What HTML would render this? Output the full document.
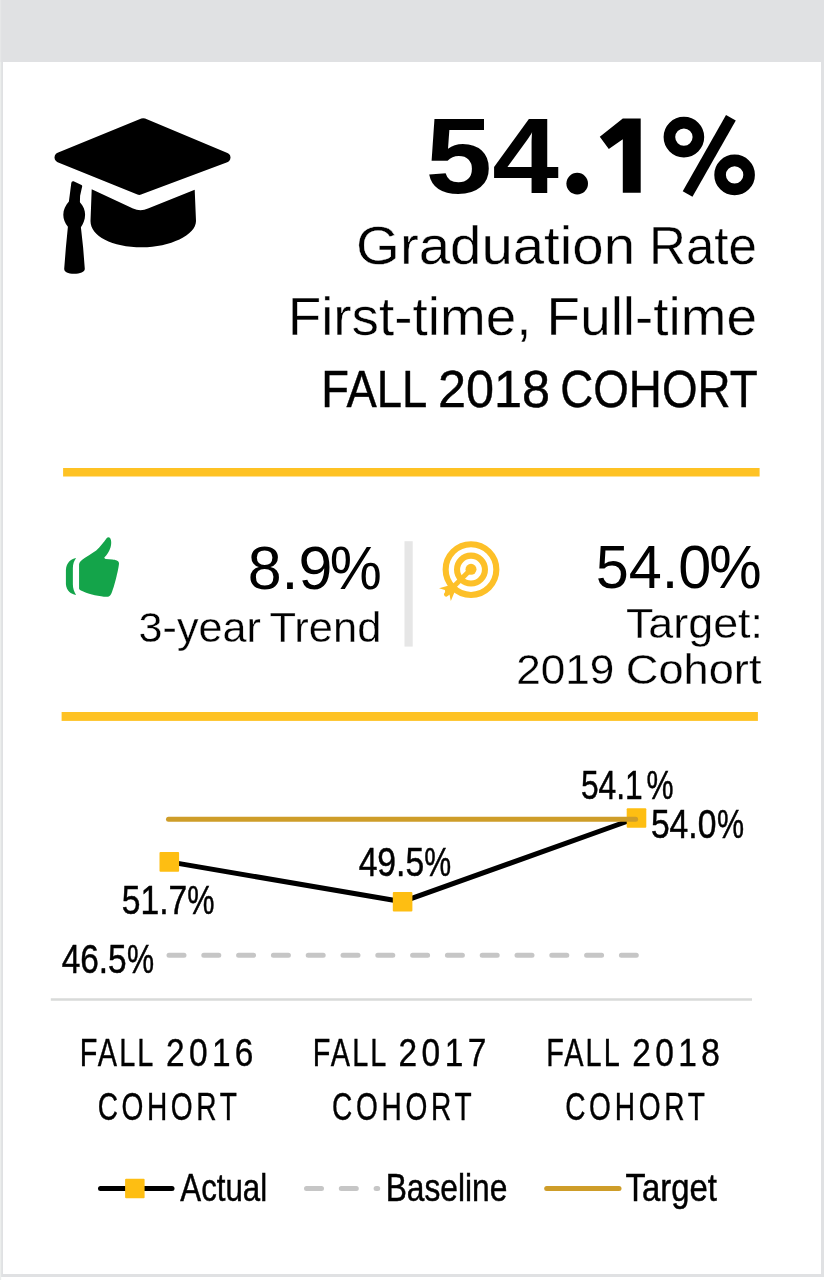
<!DOCTYPE html>
<html lang="en">
<head>
<meta charset="utf-8">
<title>Graduation Rate - Fall 2018 Cohort</title>
<style>
html,body{margin:0;padding:0;background:#fff;}
body{width:824px;height:1280px;overflow:hidden;position:relative;font-family:"Liberation Sans",sans-serif;}
svg{position:absolute;left:0;top:0;display:block;font-family:"Liberation Sans",sans-serif;}
</style>
</head>
<body>
<svg width="824" height="1280" viewBox="0 0 824 1280">
<!-- page background / card -->
<rect x="0" y="0" width="824" height="1280" fill="#ffffff"/>
<rect x="0" y="0" width="824" height="1277" fill="#e0e1e3"/>
<rect x="0" y="62" width="1.2" height="1218" fill="#eceeed"/>
<rect x="0" y="0" width="1.2" height="62" fill="#e6e7e8"/>
<rect x="3" y="62" width="818" height="1212" fill="#ffffff"/>

<!-- graduation cap -->
<g id="cap" fill="#000">
<polygon points="59.5,157.5 143.2,123.2 225.5,157.5 139.3,189.9" stroke="#000" stroke-width="10" stroke-linejoin="round"/>
<path d="M91.7,189.2 L133,208.5 Q140.5,211.8 148,208.5 L194.7,189.7 L196,221 C196,235 170,247.3 142,247.3 C112,247.3 90.5,236 90.5,221 Z"/>
<path d="M71.3,183 Q71.5,180.8 73.6,181.2 L81.5,185 Q82.5,185.6 82.1,186.8 L80.1,195.8 L79.9,202.2 C83.5,206.5 85.1,210 85.1,214.7 C85.1,220 83,224 80.9,227.2 L83.1,247.3 L84.8,268.8 C84.8,272 80,273.8 74.1,273.8 C68,273.8 64.2,272 64.2,268.8 L65.9,247.3 L67.9,226.7 C65,223 63.3,219 63.3,214.7 C63.3,209.5 65.5,205.5 68.9,201.4 L70.2,191.5 Z"/>
</g>

<!-- yellow rules -->
<rect x="63.1" y="468" width="696.5" height="8.5" fill="#fec224"/>
<rect x="61.6" y="712" width="696.3" height="8.9" fill="#fec224"/>

<!-- thumbs up -->
<g id="thumb" transform="translate(58 530) scale(0.084954)" fill="#14a44a">
<path d="M248,690 L248,405 C250,385 262,370 285,350 C330,315 400,275 450,240 C500,200 540,140 572,98 C582,84 598,80 610,92 C628,112 632,160 618,205 C605,250 575,295 545,325 C548,335 552,339 562,340 L640,348 C680,352 715,362 718,390 C718,420 700,500 690,540 C678,590 660,660 645,700 C632,740 622,772 598,783 C585,788 560,787 540,785 C500,782 440,770 400,760 C360,750 300,728 270,712 C255,704 248,698 248,690 Z"/>
<path d="M213,330 C150,338 100,385 93,470 L93,640 C100,715 150,758 213,765 C190,730 175,690 175,640 L175,450 C175,400 190,365 213,330 Z"/>
</g>

<!-- divider -->
<rect x="404.5" y="541.2" width="8.2" height="105.4" fill="#e6e6e6"/>

<!-- target icon -->
<g id="bullseye" fill="none" stroke="#fdc028">
<circle cx="471" cy="569.6" r="25.35" stroke-width="6.1"/>
<circle cx="471" cy="569.6" r="13.95" stroke-width="6.1"/>
<circle cx="471" cy="569.3" r="5.5" fill="#fdc028" stroke="none"/>
<line x1="471" y1="569.3" x2="447.5" y2="592.8" stroke-width="4.9" stroke-linecap="round"/>
<g transform="translate(420 525) scale(0.12136)" fill="#fdc028" stroke="none">
<path d="M157,521 L245,496 L290,540 L254,626 L243,572 L222,590 Q205,595 197,575 Q195,565 208,552 L205,535 Z"/>
</g>
</g>

<!-- chart -->
<g id="chart" fill="none" stroke-linecap="round">
<line x1="50.8" y1="999.5" x2="752" y2="999.5" stroke="#d8dad9" stroke-width="2.4" stroke-linecap="butt"/>
<line x1="169" y1="955.3" x2="636.3" y2="955.3" stroke="#c6c6c6" stroke-width="5" stroke-dasharray="15 19.8"/>
<polyline points="169.3,861.9 402.6,901.7 636.5,818" stroke="#000" stroke-width="5" stroke-linejoin="round"/>
<rect x="159.5" y="852.1" width="19.6" height="19.6" rx="1" fill="#febe12"/>
<rect x="392.8" y="891.9" width="19.6" height="19.6" rx="1" fill="#febe12"/>
<rect x="626.7" y="808.2" width="19.6" height="19.6" rx="1" fill="#febe12"/>
<line x1="168.5" y1="819.3" x2="635.6" y2="819.3" stroke="#ce9d29" stroke-width="5"/>
</g>

<!-- legend -->
<g id="legend" fill="none" stroke-linecap="round">
<line x1="100.5" y1="1188.5" x2="172" y2="1188.5" stroke="#000" stroke-width="5"/>
<rect x="125.1" y="1178.8" width="19.5" height="19.5" rx="1" fill="#febe12"/>
<line x1="306.5" y1="1188.4" x2="377.7" y2="1188.4" stroke="#c6c6c6" stroke-width="5" stroke-dasharray="15 19.8"/>
<line x1="546.7" y1="1188.5" x2="619" y2="1188.5" stroke="#ce9d29" stroke-width="5"/>
</g>
<!-- headline ".1%" drawn as shapes to match the source face -->
<g id="headline-tail" fill="#000" aria-label=".1%">
<circle cx="577.2" cy="183.6" r="10.8"/>
<polygon points="622.8,118.5 640.7,118.5 640.7,192.8 622.8,192.8 622.8,139.3 608.8,149.1 599.8,136.7"/>
<circle cx="683.9" cy="137.1" r="14.5" fill="none" stroke="#000" stroke-width="11.6"/>
<circle cx="734.6" cy="174.9" r="14.5" fill="none" stroke="#000" stroke-width="11.6"/>
<line x1="730.9" y1="117.7" x2="687.6" y2="194.1" stroke="#000" stroke-width="11.2"/>
</g>

<g id="labels" opacity="0.999">
<text transform="translate(425.53 192.80) scale(1.1092 1)" font-size="108" text-anchor="start" font-weight="bold" fill="#000">54</text>
<text transform="translate(356.08 264.30) scale(1.0443 1)" font-size="54" text-anchor="start" fill="#000" stroke="#fff" stroke-width="0.4">Graduation</text>
<text transform="translate(756.80 264.30) scale(0.9442 1)" font-size="54" text-anchor="end" fill="#000" stroke="#fff" stroke-width="0.4">Rate</text>
<text transform="translate(756.90 335.10) scale(1.0160 1)" font-size="54" text-anchor="end" fill="#000" stroke="#fff" stroke-width="0.4">First-time, Full-time</text>
<text transform="translate(321.23 406.50) scale(0.8808 1)" font-size="51.5" text-anchor="start" fill="#000" stroke="#000" stroke-width="0.45">FALL</text>
<text transform="translate(438.06 406.50) scale(0.9783 1)" font-size="51.5" text-anchor="start" fill="#000" stroke="#000" stroke-width="0.45">2018</text>
<text transform="translate(757.57 406.50) scale(0.8880 1)" font-size="51.5" text-anchor="end" fill="#000" stroke="#000" stroke-width="0.45">COHORT</text>
<text transform="translate(247.65 588.70) scale(0.9824 1)" font-size="62" text-anchor="start" fill="#000">8.9</text>
<text transform="translate(381.74 588.70) scale(0.9446 1)" font-size="62" text-anchor="end" fill="#000">%</text>
<text transform="translate(138.56 641.60) scale(1.0041 1)" font-size="43" text-anchor="start" fill="#000" stroke="#fff" stroke-width="0.3">3-year</text>
<text transform="translate(381.33 641.60) scale(1.0110 1)" font-size="43" text-anchor="end" fill="#000" stroke="#fff" stroke-width="0.3">Trend</text>
<text transform="translate(595.74 588.20) scale(0.9585 1)" font-size="62" text-anchor="start" fill="#000">54.0</text>
<text transform="translate(761.53 588.20) scale(0.9497 1)" font-size="62" text-anchor="end" fill="#000">%</text>
<text transform="translate(763.02 638.00) scale(1.0431 1)" font-size="43" text-anchor="end" fill="#000" stroke="#fff" stroke-width="0.3">Target:</text>
<text transform="translate(516.22 684.20) scale(1.0256 1)" font-size="43" text-anchor="start" fill="#000" stroke="#fff" stroke-width="0.3">2019</text>
<text transform="translate(761.47 684.20) scale(1.0515 1)" font-size="43" text-anchor="end" fill="#000" stroke="#fff" stroke-width="0.3">Cohort</text>
<text transform="translate(121.75 913.90) scale(0.8308 1)" font-size="40.5" text-anchor="start" fill="#000" stroke="#000" stroke-width="0.5">51.7</text>
<text transform="translate(214.41 913.90) scale(0.7576 1)" font-size="40.5" text-anchor="end" fill="#000" stroke="#000" stroke-width="0.5">%</text>
<text transform="translate(61.66 972.90) scale(0.8253 1)" font-size="40.5" text-anchor="start" fill="#000" stroke="#000" stroke-width="0.5">46.5</text>
<text transform="translate(154.19 972.90) scale(0.7527 1)" font-size="40.5" text-anchor="end" fill="#000" stroke="#000" stroke-width="0.5">%</text>
<text transform="translate(358.65 875.80) scale(0.8310 1)" font-size="40.5" text-anchor="start" fill="#000" stroke="#000" stroke-width="0.5">49.5</text>
<text transform="translate(451.13 875.80) scale(0.7477 1)" font-size="40.5" text-anchor="end" fill="#000" stroke="#000" stroke-width="0.5">%</text>
<text transform="translate(580.91 799.10) scale(0.7854 1)" font-size="40.5" text-anchor="start" fill="#000" stroke="#000" stroke-width="0.5">54.1</text>
<text transform="translate(673.54 799.10) scale(0.7518 1)" font-size="40.5" text-anchor="end" fill="#000" stroke="#000" stroke-width="0.5">%</text>
<text transform="translate(650.88 837.80) scale(0.8308 1)" font-size="40.5" text-anchor="start" fill="#000" stroke="#000" stroke-width="0.5">54.0</text>
<text transform="translate(744.19 837.80) scale(0.7527 1)" font-size="40.5" text-anchor="end" fill="#000" stroke="#000" stroke-width="0.5">%</text>
<text transform="translate(79.72 1065.80) scale(0.7600 1)" font-size="38" text-anchor="start" letter-spacing="2.75" fill="#000" stroke="#000" stroke-width="0.4">FALL</text>
<text transform="translate(257.80 1065.80) scale(0.8800 1)" font-size="38" text-anchor="end" letter-spacing="4.94" fill="#000" stroke="#000" stroke-width="0.4">2016</text>
<text transform="translate(169.05 1119.70) scale(0.7400 1)" font-size="38" text-anchor="middle" letter-spacing="4.85" fill="#000" stroke="#000" stroke-width="0.4">COHORT</text>
<text transform="translate(312.72 1065.80) scale(0.7600 1)" font-size="38" text-anchor="start" letter-spacing="2.75" fill="#000" stroke="#000" stroke-width="0.4">FALL</text>
<text transform="translate(490.91 1065.80) scale(0.8800 1)" font-size="38" text-anchor="end" letter-spacing="5.12" fill="#000" stroke="#000" stroke-width="0.4">2017</text>
<text transform="translate(403.67 1119.70) scale(0.7400 1)" font-size="38" text-anchor="middle" letter-spacing="4.95" fill="#000" stroke="#000" stroke-width="0.4">COHORT</text>
<text transform="translate(546.30 1065.80) scale(0.7600 1)" font-size="38" text-anchor="start" letter-spacing="2.65" fill="#000" stroke="#000" stroke-width="0.4">FALL</text>
<text transform="translate(724.16 1065.80) scale(0.8800 1)" font-size="38" text-anchor="end" letter-spacing="4.99" fill="#000" stroke="#000" stroke-width="0.4">2018</text>
<text transform="translate(636.83 1119.70) scale(0.7400 1)" font-size="38" text-anchor="middle" letter-spacing="4.99" fill="#000" stroke="#000" stroke-width="0.4">COHORT</text>
<text transform="translate(180.34 1200.90) scale(0.8119 1)" font-size="38.5" text-anchor="start" fill="#000" stroke="#000" stroke-width="0.5">Actual</text>
<text transform="translate(385.70 1200.90) scale(0.8246 1)" font-size="38.5" text-anchor="start" fill="#000" stroke="#000" stroke-width="0.5">Baseline</text>
<text transform="translate(625.55 1200.90) scale(0.8529 1)" font-size="38.5" text-anchor="start" fill="#000" stroke="#000" stroke-width="0.5">Target</text>
</g>
</svg>
</body>
</html>
